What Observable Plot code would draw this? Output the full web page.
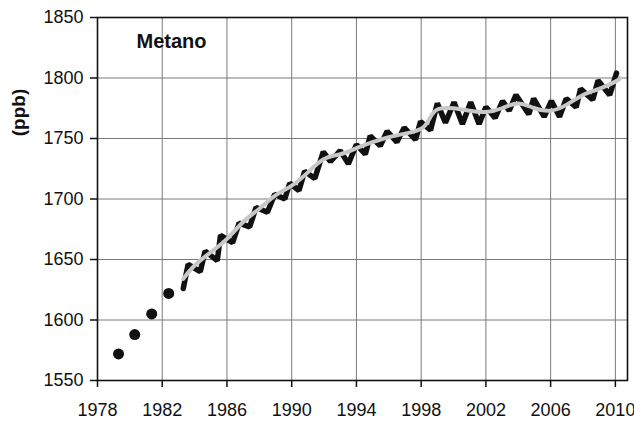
<!DOCTYPE html>
<html>
<head>
<meta charset="utf-8">
<script src="https://cdn.jsdelivr.net/npm/d3@7"></script>
<script src="https://cdn.jsdelivr.net/npm/@observablehq/plot@0.6"></script>
<style>
  html, body { margin: 0; padding: 0; background: #fff; }
  #chart { width: 634px; height: 428px; }
</style>
</head>
<body>
<div id="chart"></div>
<script>
// Early annual values (dots)
const dotYears = [1979.3, 1980.3, 1981.35, 1982.4];
const dotValues = [1572, 1588, 1605, 1622];

// Seasonal (monthly-like) record: peaks and troughs
const seasYears = [
  1983.3, 1983.6, 1984.35, 1984.65, 1985.4, 1985.6, 1986.35, 1986.75, 1987.4, 1987.8,
  1988.5, 1988.95, 1989.57, 1989.88, 1990.45, 1990.8, 1991.43, 1991.95, 1992.4, 1993.0,
  1993.5, 1994.0, 1994.55, 1994.85, 1995.47, 1995.9, 1996.5, 1996.95, 1997.65, 1997.96,
  1998.58, 1999.0, 1999.5, 2000.03, 2000.55, 2001.06, 2001.58, 2002.0, 2002.57, 2003.03,
  2003.44, 2003.86, 2004.65, 2004.95, 2005.6, 2006.05, 2006.55, 2006.96, 2007.58, 2007.85,
  2008.6, 2008.93, 2009.65, 2010.07
];
const seasValues = [
  1626, 1646, 1640, 1657, 1649, 1670, 1664, 1680, 1677, 1693,
  1689, 1704, 1700, 1713, 1707, 1723, 1717, 1739, 1731, 1740,
  1729, 1745, 1737, 1752, 1744, 1756, 1747, 1759, 1749, 1764,
  1757, 1779, 1763, 1780, 1762, 1780, 1762, 1776, 1767, 1781,
  1773, 1786, 1770, 1783, 1768, 1781, 1768, 1783, 1776, 1791,
  1782, 1798, 1786, 1804
];

// Deseasonalised trend (grey line)
const trendYears = [
  1983.3, 1984, 1985, 1986, 1987, 1988, 1989, 1990, 1991, 1992,
  1993, 1994, 1995, 1996, 1997, 1998, 1998.5, 1999, 2000, 2001,
  2002, 2003, 2004, 2005, 2006, 2007, 2008, 2009, 2010, 2010.3
];
const trendValues = [
  1634, 1645, 1656, 1667, 1681, 1692, 1703, 1711, 1722, 1733,
  1737, 1742, 1747, 1751, 1754, 1758, 1766, 1774, 1775, 1773,
  1772, 1775, 1779, 1775, 1773, 1778, 1786, 1791, 1797, 1800
];

const xTicks = [1978, 1982, 1986, 1990, 1994, 1998, 2002, 2006, 2010];
const yTicks = [1550, 1600, 1650, 1700, 1750, 1800, 1850];

const dots = dotYears.map((x, i) => ({x, y: dotValues[i]}));
const seas = seasYears.map((x, i) => ({x, y: seasValues[i]}));
const trend = trendYears.map((x, i) => ({x, y: trendValues[i]}));

const chart = Plot.plot({
  width: 634,
  height: 428,
  marginLeft: 97,
  marginRight: 7,
  marginTop: 17,
  marginBottom: 48,
  style: {fontFamily: "'Liberation Sans', Arial, sans-serif", background: "#fff", color: "#111", overflow: "visible"},
  x: {domain: [1978, 2010.75]},
  y: {domain: [1550, 1850]},
  marks: [
    Plot.gridX(xTicks, {stroke: "#7a7a7a", strokeOpacity: 1, strokeWidth: 1}),
    Plot.gridY(yTicks, {stroke: "#7a7a7a", strokeOpacity: 1, strokeWidth: 1}),
    Plot.axisX(xTicks, {tickFormat: "d", tickSize: 7, tickPadding: 16, fontSize: 18, label: null, strokeWidth: 1.5}),
    Plot.axisY(yTicks, {tickFormat: "d", tickSize: 7, tickPadding: 7, fontSize: 18, label: null, strokeWidth: 1.5}),
    Plot.frame({stroke: "#111", strokeWidth: 1.6}),
    Plot.line(seas, {x: "x", y: "y", stroke: "#111", strokeWidth: 5.5, strokeLinejoin: "miter"}),
    Plot.line(trend, {x: "x", y: "y", stroke: "#c8c8c8", strokeWidth: 4, curve: "natural"}),
    Plot.dot(dots, {x: "x", y: "y", r: 5.5, fill: "#111", stroke: "none"}),
    Plot.text(["Metano"], {frameAnchor: "top-left", dx: 39, dy: 16, fontSize: 20, fontWeight: "bold", text: d => d, textAnchor: "start", lineAnchor: "top"}),
    Plot.text(["(ppb)"], {frameAnchor: "top-left", dx: -79, dy: 95, fontSize: 19, fontWeight: "bold", text: d => d, rotate: -90, textAnchor: "middle", lineAnchor: "middle"})
  ]
});
document.getElementById("chart").appendChild(chart);
</script>
</body>
</html>
